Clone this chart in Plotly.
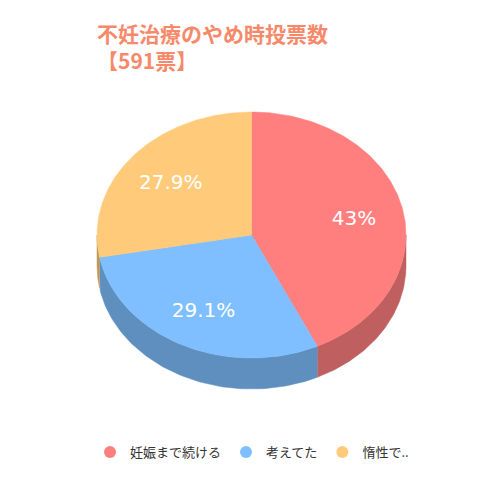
import numpy as np
import plotly.graph_objects as go

title_text = "不妊治療のやめ時投票数<br>【591票】"
categories = ["妊娠まで続ける", "考えてた", "惰性で.."]
shares = [43.0, 29.1, 27.9]
label_texts = ["43%", "29.1%", "27.9%"]
top_colors = ["#FF7F7F", "#7FBFFF", "#FFCB7A"]
side_colors = ["#BF5F5F", "#5F8FBF", "#BF985B"]

# geometry of the tilted pie in pixel space
CX, CY, RX, RY, DEPTH = 251.5, 235.0, 154.5, 123.0, 31.0
LABEL_R = 0.68
LABEL_DY = 3.0
OFF = 8  # page body margin


def pt(theta_deg, r=1.0, dy=0.0):
    t = np.radians(theta_deg)
    return CX + r * RX * np.sin(t), CY - r * RY * np.cos(t) + dy


fig = go.Figure()
total = sum(shares)
bounds = np.concatenate([[0], np.cumsum(shares) / total * 360.0])

# side walls (front half only: 90..270 deg)
for i in range(len(shares)):
    a, b = bounds[i], bounds[i + 1]
    lo, hi = max(a, 90.0), min(b, 270.0)
    if hi <= lo:
        continue
    th = np.linspace(lo, hi, 80)
    xt, yt = pt(th)
    xb, yb = pt(th[::-1], dy=DEPTH)
    fig.add_trace(go.Scatter(
        x=np.concatenate([xt, xb, xt[:1]]), y=np.concatenate([yt, yb, yt[:1]]),
        fill="toself", fillcolor=side_colors[i], mode="lines",
        line=dict(width=0.5, color=side_colors[i]),
        showlegend=False, hoverinfo="skip"))

# top faces
for i in range(len(shares)):
    a, b = bounds[i], bounds[i + 1]
    th = np.linspace(a, b, 160)
    xt, yt = pt(th)
    fig.add_trace(go.Scatter(
        x=np.concatenate([[CX], xt, [CX]]), y=np.concatenate([[CY], yt, [CY]]),
        fill="toself", fillcolor=top_colors[i], mode="lines",
        line=dict(width=0.5, color=top_colors[i]),
        showlegend=False, hoverinfo="skip"))

# data labels
mids = (bounds[:-1] + bounds[1:]) / 2
lx, ly = pt(mids, r=LABEL_R, dy=LABEL_DY)
fig.add_trace(go.Scatter(
    x=lx, y=ly, mode="text", text=label_texts,
    textfont=dict(color="white", size=20, family="DejaVu Sans, Noto Sans CJK JP"),
    showlegend=False, hoverinfo="skip"))

# legend entries
for i, name in enumerate(categories):
    fig.add_trace(go.Scatter(
        x=[None], y=[None], mode="markers", name=name,
        marker=dict(color=top_colors[i], size=12, symbol="circle")))

fig.add_annotation(
    x=95, y=16, xref="x", yref="y", xanchor="left", yanchor="top",
    text="<b>" + title_text + "</b>", showarrow=False, align="left",
    font=dict(size=21, color="#F7896B", family="Noto Sans CJK JP, DejaVu Sans"))

fig.update_layout(
    width=500, height=500,
    margin=dict(l=0, r=0, t=0, b=0),
    paper_bgcolor="white", plot_bgcolor="white",
    xaxis=dict(range=[OFF, 500 + OFF], visible=False, fixedrange=True),
    yaxis=dict(range=[500 + OFF, OFF], visible=False, fixedrange=True),
    legend=dict(orientation="h", x=0.488, xanchor="center", y=1 - (452 - OFF) / 500,
                yanchor="middle", font=dict(size=13, color="#333333",
                                            family="Noto Sans CJK JP, DejaVu Sans"),
                itemclick=False, itemdoubleclick=False),
    showlegend=True,
)

fig.write_html("out.html")
